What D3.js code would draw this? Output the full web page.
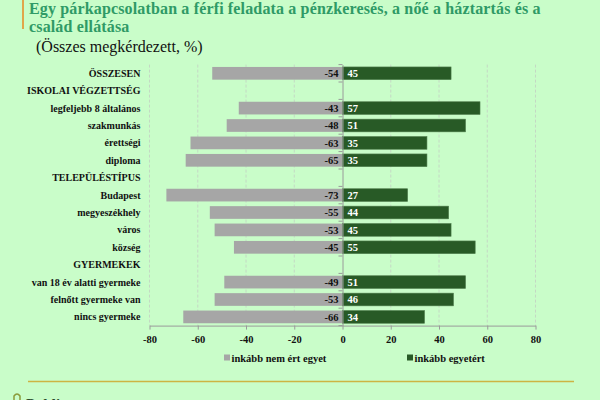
<!DOCTYPE html>
<html lang="hu">
<head>
<meta charset="UTF-8">
<title>Férfi feladata a pénzkeresés</title>
<script src="https://d3js.org/d3.v7.min.js"></script>
<style>
    body {margin:0; background:#c9fdc9;}
    svg {display:block;}
    svg text {font-family:"Liberation Serif", "Times New Roman", serif;}
</style>
</head>
<body>
<svg id="chart" width="600" height="400"></svg>
<script>
// row labels, top to bottom; headers have no values
var categories = ["ÖSSZESEN", "ISKOLAI VÉGZETTSÉG", "legfeljebb 8 általános", "szakmunkás", "érettségi", "diploma",
    "TELEPÜLÉSTÍPUS", "Budapest", "megyeszékhely", "város", "község",
    "GYERMEKEK", "van 18 év alatti gyermeke", "felnőtt gyermeke van", "nincs gyermeke"];
var disagree = [-54, null, -43, -48, -63, -65, null, -73, -55, -53, -45, null, -49, -53, -66];
var agree = [45, null, 57, 51, 35, 35, null, 27, 44, 45, 55, null, 51, 46, 34];
var xTicks = [-80, -60, -40, -20, 0, 20, 40, 60, 80];
var seriesNames = ["inkább nem ért egyet", "inkább egyetért"];
var colors = ["#a6a6a6", "#285a26"];

var svg = d3.select("#chart");

// title block
svg.append("rect").attr("x", 22).attr("y", 0).attr("width", 2).attr("height", 29).attr("fill", "#e0a64a");
var title = svg.append("text").attr("fill", "#2f9a66").attr("font-weight", "bold")
    .attr("font-size", "16px").attr("letter-spacing", "0.15px");
title.append("tspan").attr("x", 29).attr("y", 13.5).text("Egy párkapcsolatban a férfi feladata a pénzkeresés, a nőé a háztartás és a");
title.append("tspan").attr("x", 29).attr("y", 32).text("család ellátása");
svg.append("text").attr("x", 36).attr("y", 52).attr("font-size", "16px").attr("fill", "#111")
    .text("(Összes megkérdezett, %)");

var x = d3.scaleLinear().domain([-80, 80]).range([149.5, 535.5]);
var y = d3.scaleBand().domain(categories).range([64.6, 325.6]).paddingInner(0.27).paddingOuter(0.135);

var plot = svg.append("g");

// dashed grid
plot.selectAll(".grid").data(xTicks.filter(function(d){ return d != 0; })).enter().append("line")
    .attr("x1", function(d){ return x(d); }).attr("x2", function(d){ return x(d); })
    .attr("y1", 64.6).attr("y2", 325.6)
    .attr("stroke", "#c4d8c4").attr("stroke-dasharray", "3,2").attr("stroke-width", 1);

// bars
var rows = categories.map(function(c, i){ return {cat: c, neg: disagree[i], pos: agree[i]}; })
    .filter(function(d){ return d.neg !== null; });

plot.selectAll(".neg").data(rows).enter().append("rect")
    .attr("x", function(d){ return x(d.neg); })
    .attr("y", function(d){ return y(d.cat); })
    .attr("width", function(d){ return x(0) - x(d.neg); })
    .attr("height", y.bandwidth())
    .attr("fill", colors[0]);

plot.selectAll(".pos").data(rows).enter().append("rect")
    .attr("x", x(0))
    .attr("y", function(d){ return y(d.cat); })
    .attr("width", function(d){ return x(d.pos) - x(0); })
    .attr("height", y.bandwidth())
    .attr("fill", colors[1]).attr("stroke", "#4f7d4c").attr("stroke-width", 0.6);

plot.selectAll(".negLbl").data(rows).enter().append("text")
    .attr("x", x(0) - 4)
    .attr("y", function(d){ return y(d.cat) + y.bandwidth() / 2; })
    .attr("dy", "0.35em").attr("text-anchor", "end")
    .attr("font-size", "10.5px").attr("font-weight", "bold").attr("fill", "#111")
    .text(function(d){ return d.neg; });

plot.selectAll(".posLbl").data(rows).enter().append("text")
    .attr("x", x(0) + 5)
    .attr("y", function(d){ return y(d.cat) + y.bandwidth() / 2; })
    .attr("dy", "0.35em")
    .attr("font-size", "10.5px").attr("font-weight", "bold").attr("fill", "#fff")
    .text(function(d){ return d.pos; });

// category axis at zero
var yAxis = plot.append("g").attr("transform", "translate(" + x(0) + ",0)")
    .call(d3.axisLeft(y).tickSize(0).tickFormat(""));
yAxis.select(".domain").attr("stroke", "#9a9a9a");
var bounds = [64.6].concat(categories.map(function(c){ return y(c) + y.bandwidth() + y.step() * y.paddingInner() / 2; }));
yAxis.selectAll(".bnd").data(bounds).enter().append("line")
    .attr("x1", -4).attr("x2", 0).attr("y1", function(d){ return d; }).attr("y2", function(d){ return d; })
    .attr("stroke", "#9a9a9a");

// row labels
svg.selectAll(".cat").data(categories).enter().append("text")
    .attr("x", 140.5)
    .attr("y", function(d){ return y(d) + y.bandwidth() / 2; })
    .attr("dy", "0.35em").attr("text-anchor", "end")
    .attr("font-size", "10px").attr("font-weight", "bold").attr("fill", "#111")
    .text(function(d){ return d; });

// x axis
var xAxis = svg.append("g").attr("transform", "translate(0,325.6)")
    .call(d3.axisBottom(x).tickValues(xTicks).tickFormat(function(d){ return String(d); })
        .tickSize(4).tickSizeOuter(0).tickPadding(6));
xAxis.attr("font-family", null);
xAxis.select(".domain").attr("stroke", "#9a9a9a");
xAxis.selectAll(".tick line").attr("stroke", "#9a9a9a");
xAxis.selectAll(".tick text").attr("font-size", "10.5px")
    .attr("font-weight", "bold").attr("fill", "#111");

// legend
var legX = [224, 407];
var leg = svg.selectAll(".leg").data(seriesNames).enter().append("g")
    .attr("transform", function(d, i){ return "translate(" + legX[i] + ",358)"; });
leg.append("rect").attr("x", 0).attr("y", -3.5).attr("width", 6).attr("height", 6)
    .attr("fill", function(d, i){ return colors[i]; });
leg.append("text").attr("x", 7.5).attr("dy", "0.35em")
    .attr("font-size", "10.5px").attr("font-weight", "bold").attr("fill", "#111")
    .text(function(d){ return d; });

// footer
svg.append("line").attr("x1", 28).attr("x2", 574).attr("y1", 381.5).attr("y2", 381.5)
    .attr("stroke", "#cdb443").attr("stroke-width", 1.5);
svg.append("path").attr("d", "M14,400 L14,396 Q17,392 20,396 L20,400")
    .attr("fill", "none").attr("stroke", "#8a9a3a").attr("stroke-width", 1.5);
svg.append("text").attr("x", 26).attr("y", 409).attr("font-size", "15px").attr("font-weight", "bold")
    .attr("fill", "#2c4a2c").text("Publicus");
</script>
</body>
</html>
